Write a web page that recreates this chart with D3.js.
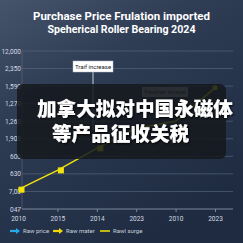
<!DOCTYPE html>
<html>
<head>
<meta charset="utf-8">
<script src="https://cdn.jsdelivr.net/npm/d3@7"></script>
<style>
  html, body { margin: 0; padding: 0; background: #1f2c42; }
  svg { display: block; }
</style>
</head>
<body>
<div id="chart"></div>
<script>
// Purchase price chart with a news-caption overlay.

const xLabels = ['2010', '2015', '2014', '2023', '2010', '2023'];
const yLabels = ['047', '7,00', '630', '600', '1,900', '1,260', '1,270', '1,590', '2,350', '12,000'];
const surgeValues = [1.1, 2.2, 3.45, 4.6, 5.0, 6.9];
const legendNames = ['Raw price', 'Raw mater', 'Rawl surge'];
const titleLines = ['Purchase Price Frulation imported', 'Speherical Roller Bearing  2024'];
const captionLines = ['加拿大拟对中国永磁体', '等产品征收关税'];

const width = 243;
const height = 243;
const d3 = window.d3;

const svg = d3.select('#chart').append('svg')
  .attr('width', width)
  .attr('height', height);

const defs = svg.append('defs');
const bg = defs.append('linearGradient')
  .attr('id', 'bg')
  .attr('x1', 0).attr('y1', 0).attr('x2', 0.6).attr('y2', 1);
bg.append('stop').attr('offset', '0%').attr('stop-color', '#46546b');
bg.append('stop').attr('offset', '35%').attr('stop-color', '#2f3d55');
bg.append('stop').attr('offset', '100%').attr('stop-color', '#1e2b41');

const shadow = defs.append('filter').attr('id', 'shadow')
  .attr('x', '-10%').attr('y', '-30%').attr('width', '120%').attr('height', '160%');
shadow.append('feDropShadow')
  .attr('dx', 1).attr('dy', 1).attr('stdDeviation', 1)
  .attr('flood-color', '#000').attr('flood-opacity', 0.9);

svg.append('rect')
  .attr('width', width).attr('height', height)
  .attr('fill', 'url(#bg)');

// title
svg.selectAll('.title')
  .data(titleLines)
  .enter().append('text')
  .attr('class', 'title')
  .attr('x', 121.5)
  .attr('y', (d, i) => 20 + i * 13)
  .attr('text-anchor', 'middle')
  .attr('font-family', 'Roboto, sans-serif')
  .attr('font-weight', 'bold')
  .attr('font-size', 11)
  .attr('fill', '#ffffff')
  .attr('textLength', (d, i) => i === 0 ? 177 : 148)
  .attr('lengthAdjust', 'spacingAndGlyphs')
  .text(d => d);

const plot = { left: 22, right: 233, top: 51, bottom: 209 };

const x = d3.scalePoint()
  .domain(d3.range(xLabels.length))
  .range([18, 215]);

const y = d3.scaleLinear()
  .domain([0, yLabels.length - 1])
  .range([plot.bottom, plot.top]);

// grid
svg.append('g')
  .selectAll('line')
  .data(d3.range(1, yLabels.length))
  .enter().append('line')
  .attr('x1', plot.left).attr('x2', plot.right)
  .attr('y1', d => y(d)).attr('y2', d => y(d))
  .attr('stroke', '#56657c')
  .attr('stroke-width', 0.7);

svg.append('line')
  .attr('x1', plot.left).attr('x2', plot.left)
  .attr('y1', plot.top).attr('y2', plot.bottom)
  .attr('stroke', '#56657c')
  .attr('stroke-width', 0.7);

// y axis labels
const yAxis = svg.append('g')
  .attr('transform', `translate(${plot.left},0)`)
  .call(d3.axisLeft(y).tickValues(d3.range(yLabels.length)).tickFormat(i => yLabels[i]).tickSize(0).tickPadding(1));
yAxis.select('.domain').remove();
yAxis.selectAll('text')
  .attr('font-family', 'Roboto, sans-serif')
  .attr('font-size', 6.5)
  .attr('fill', '#d4dae3');

// x axis
const xAxis = svg.append('g')
  .attr('transform', `translate(0,${plot.bottom})`)
  .call(d3.axisBottom(x).tickFormat(i => xLabels[i]).tickSize(3).tickPadding(4));
xAxis.select('.domain')
  .attr('d', `M${plot.left},0H${plot.right}`)
  .attr('stroke', '#7a879a');
xAxis.selectAll('.tick line').attr('stroke', '#7a879a');
xAxis.selectAll('text')
  .attr('font-family', 'Roboto, sans-serif')
  .attr('font-size', 6.5)
  .attr('fill', '#d4dae3');

// annotation "Traif increase"
svg.append('line')
  .attr('x1', 93).attr('x2', 93)
  .attr('y1', 72).attr('y2', 130)
  .attr('stroke', '#c7cdd6')
  .attr('stroke-width', 1);
svg.append('rect')
  .attr('x', 73).attr('y', 61).attr('width', 40).attr('height', 11)
  .attr('fill', '#ffffff').attr('stroke', '#b8bec8').attr('stroke-width', 0.5);
svg.append('text')
  .attr('x', 93).attr('y', 69)
  .attr('text-anchor', 'middle')
  .attr('font-family', 'Roboto, sans-serif')
  .attr('font-size', 6)
  .attr('fill', '#222')
  .text('Traif increase');

// annotation "Pavaher shrage"
svg.append('rect')
  .attr('x', 142).attr('y', 87).attr('width', 46).attr('height', 10)
  .attr('fill', '#a9adb4');
svg.append('text')
  .attr('x', 165).attr('y', 94.2)
  .attr('text-anchor', 'middle')
  .attr('font-family', 'Roboto, sans-serif')
  .attr('font-size', 6)
  .attr('fill', '#1c1f25')
  .text('Pavaher shrage');

// surge line
const line = d3.line()
  .x((d, i) => x(i))
  .y(d => y(d));

svg.append('path')
  .datum(surgeValues)
  .attr('d', line)
  .attr('fill', 'none')
  .attr('stroke', '#f2e40a')
  .attr('stroke-width', 1.4);

svg.selectAll('.marker')
  .data(surgeValues.slice(0, 3))
  .enter().append('rect')
  .attr('class', 'marker')
  .attr('x', (d, i) => x(i) + 0.5)
  .attr('y', d => y(d) - 3)
  .attr('width', 6).attr('height', 6)
  .attr('fill', '#f2e40a');

svg.append('circle')
  .attr('cx', x(surgeValues.length - 1))
  .attr('cy', y(surgeValues[surgeValues.length - 1]))
  .attr('r', 2.5)
  .attr('fill', '#f2e40a');

// caption overlay
svg.append('rect')
  .attr('x', 17).attr('y', 84).attr('width', 209).attr('height', 75)
  .attr('rx', 6)
  .attr('fill', '#15181d')
  .attr('fill-opacity', 0.86);

svg.selectAll('.caption')
  .data(captionLines)
  .enter().append('text')
  .attr('class', 'caption')
  .attr('x', (d, i) => i === 0 ? 37 : 52)
  .attr('y', (d, i) => 116 + i * 25)
  .attr('font-family', '"Noto Sans CJK SC", sans-serif')
  .attr('font-weight', 900)
  .attr('font-size', 19.6)
  .attr('fill', '#ffffff')
  .attr('filter', 'url(#shadow)')
  .text(d => d);

// legend
const legend = svg.append('g').attr('transform', 'translate(0,231)');
const legendX = [10, 53, 100];
const legendColors = ['#25a9ea', '#f2d80a', '#f2e40a'];

legendNames.forEach((name, i) => {
  const lx = legendX[i];
  if (i < 2) {
    legend.append('line')
      .attr('x1', lx).attr('x2', lx + 7)
      .attr('y1', 0).attr('y2', 0)
      .attr('stroke', legendColors[i]).attr('stroke-width', 2.2);
    legend.append('path')
      .attr('d', `M${lx + 6},-3L${lx + 10},0L${lx + 6},3Z`)
      .attr('fill', legendColors[i]);
  } else {
    legend.append('line')
      .attr('x1', lx).attr('x2', lx + 10)
      .attr('y1', 0).attr('y2', 0)
      .attr('stroke', legendColors[i]).attr('stroke-width', 1.5);
  }
  legend.append('text')
    .attr('x', lx + 13)
    .attr('y', 2.2)
    .attr('font-family', 'Roboto, sans-serif')
    .attr('font-size', 6)
    .attr('fill', '#c8d0dc')
    .text(name);
});
</script>
</body>
</html>
